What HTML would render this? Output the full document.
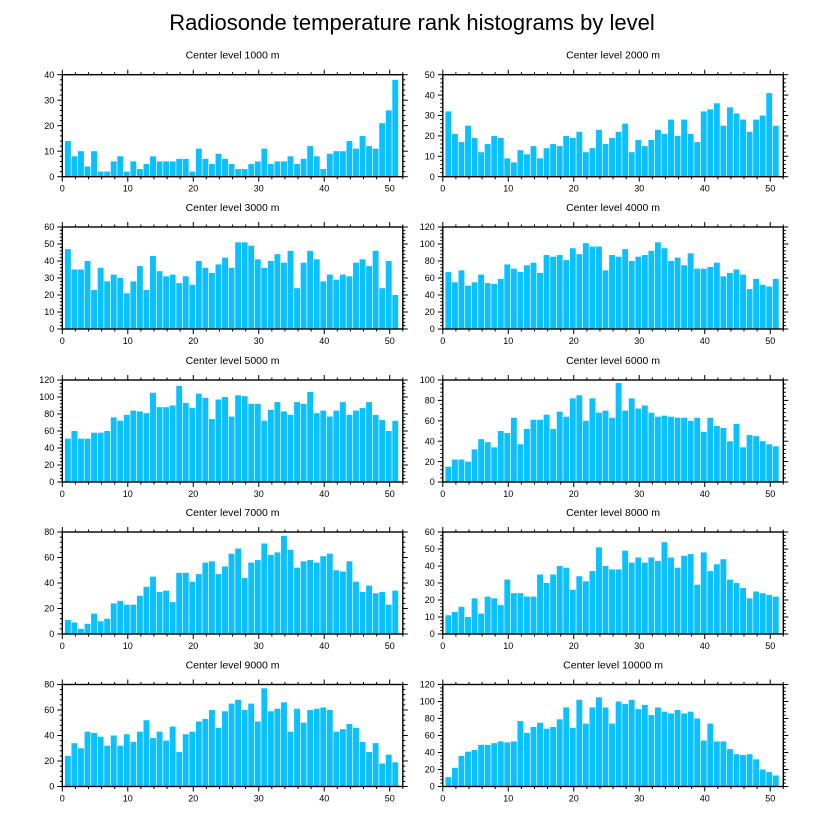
<!DOCTYPE html>
<html><head><meta charset="utf-8"><style>
html,body{margin:0;padding:0;background:#fff;}
svg{display:block;font-family:"Liberation Sans",sans-serif;}
</style></head><body>
<svg id="chart" width="824" height="824" viewBox="0 0 824 824">
<text x="412" y="30" font-size="22" text-anchor="middle">Radiosonde temperature rank histograms by level</text>
</svg>
<script>
const levels = ["1000","2000","3000","4000","5000","6000","7000","8000","9000","10000"];
const yMaxes = [40,50,60,120,120,100,80,60,80,120];
const yMajorSteps = [10,10,10,20,20,20,20,10,20,20];
const xTicks = [0,10,20,30,40,50];
const h1000 = [14,8,10,4,10,2,2,6,8,2,6,3,5,8,6,6,6,7,7,2,11,7,5,9,7,5,3,3,5,6,11,5,6,6,8,5,7,12,8,3,9,10,10,14,11,16,12,11,21,26,38];
const h2000 = [32,21,17,25,19,12,16,20,19,9,7,13,11,15,9,14,16,15,20,19,22,12,14,23,16,19,22,26,12,18,15,18,23,21,28,20,28,21,17,32,33,36,25,34,31,28,22,28,30,41,25];
const h3000 = [47,35,35,40,23,36,28,32,30,21,28,37,23,43,34,31,32,27,31,26,40,36,33,38,42,36,51,51,49,41,36,40,44,39,46,24,39,46,41,28,32,29,32,31,39,41,37,46,24,40,20];
const h4000 = [67,55,69,51,55,64,54,53,59,76,71,67,75,78,66,87,85,87,81,95,88,101,97,97,69,87,85,94,80,85,87,92,102,95,80,84,75,89,71,71,73,78,62,66,70,64,47,59,52,50,59];
const h5000 = [51,60,51,51,58,58,60,76,72,79,84,83,81,105,88,88,90,113,93,87,104,99,74,97,100,77,102,101,92,92,72,85,94,83,79,94,92,106,81,84,77,84,94,79,84,87,94,79,73,60,72];
const h6000 = [15,22,22,20,32,42,39,34,50,48,63,37,52,61,61,66,52,69,64,82,85,60,82,68,70,63,97,70,82,72,75,68,64,65,64,63,63,60,63,49,63,55,53,40,57,34,46,45,40,37,35];
const h7000 = [11,9,4,8,16,10,12,24,26,23,23,30,37,45,33,34,25,48,48,41,47,56,57,47,53,63,67,44,56,58,71,62,64,77,66,52,57,58,56,61,63,50,49,57,41,33,38,32,33,23,34];
const h8000 = [11,13,16,10,21,12,22,21,17,32,24,24,22,22,35,30,35,40,39,26,34,31,37,51,40,38,38,49,42,45,42,45,43,54,45,39,46,47,29,48,37,41,44,32,30,27,21,25,24,23,22];
const h9000 = [24,34,30,43,42,39,32,40,32,41,35,43,52,38,43,36,47,27,41,43,51,53,60,46,59,65,68,60,65,51,77,59,61,66,43,61,50,60,61,62,60,43,45,49,46,35,27,34,18,25,19];
const h10000 = [11,22,36,41,43,49,49,51,53,52,53,77,63,70,75,68,70,79,93,69,102,74,93,105,93,74,100,97,102,91,96,84,93,88,86,90,86,88,80,54,74,53,53,44,38,37,38,32,20,17,13];
const series = [h1000,h2000,h3000,h4000,h5000,h6000,h7000,h8000,h9000,h10000];

const NS = "http://www.w3.org/2000/svg";
const svg = document.getElementById("chart");
const colLeft = [62.3, 442.8];
const rowTop = [74.7, 227, 380, 532, 684.5];
const PW = 340.5, PH = 102, XMAX = 52;
function mk(tag, attrs, parent){const e=document.createElementNS(NS,tag);for(const k in attrs)e.setAttribute(k,attrs[k]);parent.appendChild(e);return e;}

series.forEach((vals, p) => {
  const L = colLeft[p%2], T = rowTop[Math.floor(p/2)], B = T+PH, R = L+PW;
  const ymax = yMaxes[p], step = yMajorSteps[p];
  const xs = v => L + v/XMAX*PW;
  const ys = v => B - v/ymax*PH;
  const g = mk("g",{},svg);
  
  
  const t = mk("text",{x:(L+R)/2,y:T-16,"font-size":"10.5","text-anchor":"middle"},g);
  
  
  t.textContent = "Center level " + levels[p] + " m";
  vals.forEach((v,i) => {
    const cx = xs(i+0.85), w = 0.9/XMAX*PW;
    const r = mk("rect",{x:cx-w/2,y:ys(v),width:w,height:B-ys(v),fill:"#0BC0FF"},g);
    
    
  });
  const ax = mk("rect",{x:L,y:T,width:PW,height:PH,fill:"none",stroke:"#000","stroke-width":"1.4"},g);
  
  
  for(let v=0; v<=XMAX; v+=2){
    const major = v%10===0, len = major?5:2.5, x = xs(v);
    mk("line",{x1:x,x2:x,y1:B,y2:B+len,stroke:"#000","stroke-width":"1"},g);
    mk("line",{x1:x,x2:x,y1:T,y2:T-len,stroke:"#000","stroke-width":"1"},g);
  }
  xTicks.forEach(v => {
    const lt = mk("text",{x:xs(v),y:B+15,"font-size":"9","text-anchor":"middle"},g);
    
    
    lt.textContent = v;
  });
  const minor = step/5;
  for(let v=0; v<=ymax+1e-9; v+=minor){
    const major = Math.abs(v/step - Math.round(v/step))<1e-6, len = major?5:2.5, y = ys(v);
    mk("line",{x1:L,x2:L-len,y1:y,y2:y,stroke:"#000","stroke-width":"1"},g);
    mk("line",{x1:R,x2:R+len,y1:y,y2:y,stroke:"#000","stroke-width":"1"},g);
    if(major){
      const yt = mk("text",{x:L-8,y:y+3.2,"font-size":"9","text-anchor":"end"},g);
      
      
      yt.textContent = Math.round(v);
    }
  }
});
</script>
</body></html>
